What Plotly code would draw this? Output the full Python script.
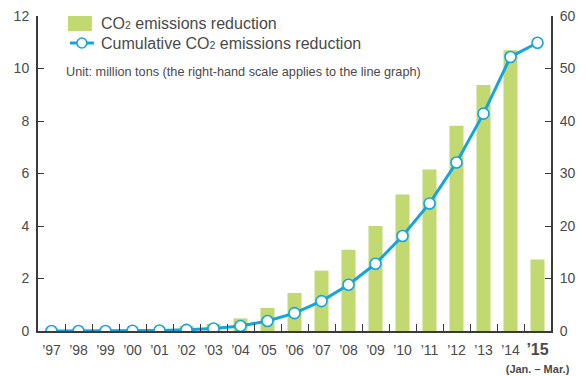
import plotly.graph_objects as go

years = ["’97", "’98", "’99", "’00", "’01", "’02", "’03", "’04", "’05", "’06",
         "’07", "’08", "’09", "’10", "’11", "’12", "’13", "’14", "’15"]
tick_labels = years[:-1] + ["<span style='font-size:16px'><b>’15</b></span><br><span style='font-size:11px'><b>(Jan. – Mar.)</b></span>"]
annual_reduction = [0, 0, 0, 0, 0.05, 0.2, 0.27, 0.48, 0.88, 1.45, 2.3, 3.1, 4.0,
                    5.2, 6.15, 7.82, 9.37, 10.7, 2.72]
cumulative_reduction = [0, 0, 0, 0.05, 0.1, 0.22, 0.48, 0.95, 1.9, 3.4, 5.7, 8.8,
                        12.8, 18.1, 24.3, 32.1, 41.4, 52.2, 54.9]
left_ticks = [0, 2, 4, 6, 8, 10, 12]
right_ticks = [0, 10, 20, 30, 40, 50, 60]

GREEN = "#c2d972"
CYAN = "#14a5e0"
AXIS = "#3a3a3a"
TEXT = "#4a4a4a"
FONT = "Liberation Sans, Arial, sans-serif"

fig = go.Figure()
fig.add_trace(go.Bar(x=years, y=annual_reduction, marker=dict(color=GREEN, line_width=0),
                     width=0.52, yaxis="y", showlegend=False))
fig.add_trace(go.Scatter(x=years, y=cumulative_reduction, yaxis="y2", mode="lines+markers",
                         line=dict(color=CYAN, width=3),
                         marker=dict(size=11, color="white", line=dict(color=CYAN, width=1.6)),
                         showlegend=False))

# custom legend
fig.add_shape(type="rect", xref="paper", yref="paper", x0=(68-38)/514, x1=(92-38)/514,
              y0=(331-31)/315, y1=(331-16)/315, fillcolor=GREEN, line_width=0)
fig.add_shape(type="line", xref="paper", yref="paper", x0=(70-38)/514, x1=(94-38)/514,
              y0=(331-43)/315, y1=(331-43)/315, line=dict(color=CYAN, width=3))
fig.add_shape(type="circle", xref="paper", yref="paper", x0=(77-38)/514, x1=(87-38)/514,
              y0=(331-48)/315, y1=(331-38)/315, fillcolor="white", line=dict(color=CYAN, width=1.6))
fig.add_annotation(xref="paper", yref="paper", x=(99-38)/514, y=(331-23)/315, xanchor="left",
                   yanchor="middle", showarrow=False,
                   text="CO<span style='font-size:10.5px'>2</span> emissions reduction",
                   font=dict(size=16, color=TEXT, family=FONT))
fig.add_annotation(xref="paper", yref="paper", x=(99-38)/514, y=(331-43)/315, xanchor="left",
                   yanchor="middle", showarrow=False,
                   text="Cumulative CO<span style='font-size:10.5px'>2</span> emissions reduction",
                   font=dict(size=16, color=TEXT, family=FONT))
fig.add_annotation(xref="paper", yref="paper", x=(64-38)/514, y=(331-72)/315, xanchor="left",
                   yanchor="middle", showarrow=False,
                   text="Unit: million tons (the right-hand scale applies to the line graph)",
                   font=dict(size=12.7, color=TEXT, family=FONT))

fig.update_layout(
    width=586, height=376, margin=dict(l=38, r=35, t=16, b=45),
    paper_bgcolor="white", plot_bgcolor="white",
    font=dict(family=FONT, color=TEXT, size=14),
    bargap=0.48,
    xaxis=dict(type="category", tickmode="array", tickvals=years, ticktext=tick_labels,
               tickson="boundaries", ticks="inside", ticklen=7, tickcolor=AXIS, tickwidth=1,
               showline=True, linecolor=AXIS, linewidth=2, showgrid=False, tickangle=0,
               automargin=False, range=[-0.5, 18.5], ticklabelstandoff=5,
               tickfont=dict(size=14, color=TEXT)),
    yaxis=dict(range=[0, 12], tickvals=left_ticks, ticks="inside", ticklen=6, tickcolor=AXIS,
               showline=True, linecolor=AXIS, linewidth=2, showgrid=False, zeroline=False,
               automargin=False, ticklabelstandoff=4, tickfont=dict(size=14, color=TEXT)),
    yaxis2=dict(range=[0, 60], tickvals=right_ticks, overlaying="y", side="right",
                ticks="inside", ticklen=6, tickcolor=AXIS, showline=True, linecolor=AXIS,
                linewidth=2, showgrid=False, zeroline=False, ticklabelstandoff=4,
                automargin=False, tickfont=dict(size=14, color=TEXT)),
)

fig.write_html("out.html")
